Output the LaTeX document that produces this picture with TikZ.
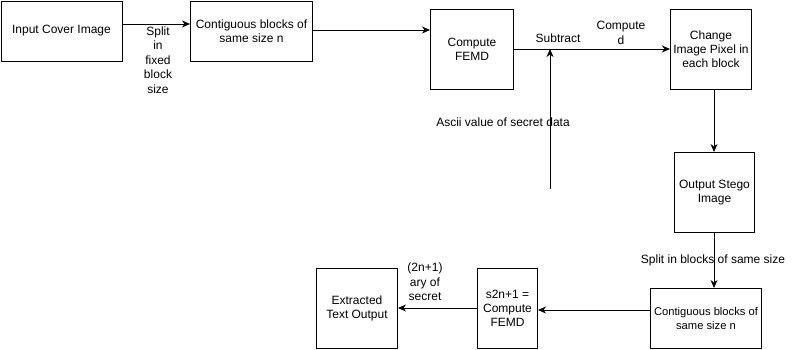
\documentclass[tikz,border=0pt]{standalone}
\usepackage{fontspec}
\setmainfont{Liberation Sans}
\usetikzlibrary{arrows.meta}
\begin{document}
\begin{tikzpicture}[x=1pt,y=-1pt,
  font=\fontsize{12}{14}\selectfont,
  blk/.style={draw=black,line width=1pt,fill=white,inner sep=0pt,align=center},
  lbl/.style={inner sep=0pt,align=center,font=\fontsize{12}{14.5}\selectfont},
  flow/.style={draw=black,line width=1pt,-{Stealth[length=8pt,width=7pt,inset=2.5pt]}}]
\useasboundingbox (0,0) rectangle (801,349);
% process boxes: corner coordinates in pixels
\node[blk,minimum width=121pt,minimum height=60pt,anchor=north west] (cover) at (0.5,0.5) {Input Cover Image};
\node[blk,minimum width=122pt,minimum height=60pt,anchor=north west] (blocks) at (190,0.5) {Contiguous blocks of\\same size n};
\node[blk,minimum width=83pt,minimum height=80pt,anchor=north west] (femd) at (430,9) {Compute\\FEMD};
\node[blk,minimum width=81pt,minimum height=80pt,anchor=north west] (change) at (670,9) {Change\\Image Pixel in\\each block};
\node[blk,minimum width=80pt,minimum height=80pt,anchor=north west] (stego) at (674,152) {Output Stego\\Image};
\node[blk,minimum width=111pt,minimum height=60pt,anchor=north west,font=\fontsize{11.2}{14}\selectfont] (blocks2) at (650,288) {Contiguous blocks of\\same size n};
\node[blk,minimum width=60pt,minimum height=80pt,anchor=north west] (extract) at (477,268) {s2n+1 =\\Compute\\FEMD};
\node[blk,minimum width=81pt,minimum height=80pt,anchor=north west] (text) at (316,268) {Extracted\\Text Output};

% connectors
\draw[flow] (cover.east |- 0,24) -- (blocks.west |- 0,24);
\draw[flow] (blocks.east |- 0,30) -- (femd.west |- 0,30);
\draw[flow] (femd.east |- 0,49) -- (change.west |- 0,49);
\coordinate (join) at (550,49);
\coordinate (secret) at (550,189);
\draw[flow] (secret) -- (join);
\draw[flow] (change.south -| 714,0) -- (stego.north -| 714,0);
\draw[flow] (stego.south -| 714,0) -- (blocks2.north -| 714,0);
\draw[flow] (blocks2.west |- 0,310) -- (extract.east |- 0,310);
\draw[flow] (extract.west |- 0,308) -- (text.east |- 0,308);

% connector labels
\node[lbl,fill=white] (splitlbl) at (158,60) {Split\\in\\fixed\\block\\size};
\node[lbl] (sublbl) at (558,38) {Subtract};
\node[lbl] (dlbl) at (621,33) {Compute\\d};
\node[lbl] (asciilbl) at (503,122) {Ascii value of secret data};
\node[lbl] (splitlbl2) at (713,260) {Split in blocks of same size};
\node[lbl] (arylbl) at (425,282) {(2n+1)\\ary of\\secret};
\end{tikzpicture}
\end{document}
